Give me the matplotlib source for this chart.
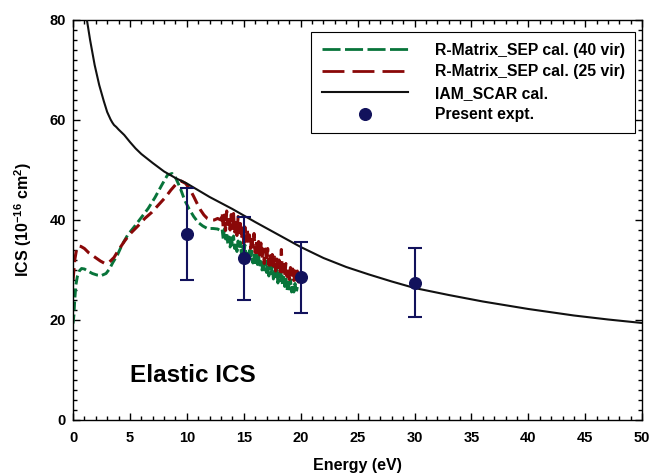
import matplotlib
matplotlib.use("Agg")
import matplotlib.pyplot as plt
from matplotlib.lines import Line2D
from matplotlib.ticker import MultipleLocator

plt.rcParams['font.family'] = ['Liberation Sans', 'DejaVu Sans']
plt.rcParams['font.weight'] = 'bold'
plt.rcParams['lines.scale_dashes'] = False
plt.rcParams['mathtext.fontset'] = 'custom'
plt.rcParams['mathtext.rm'] = 'Liberation Sans:bold'
plt.rcParams['mathtext.bf'] = 'Liberation Sans:bold'
plt.rcParams['mathtext.it'] = 'Liberation Sans:bold'
plt.rcParams['mathtext.sf'] = 'Liberation Sans:bold'
plt.rcParams['mathtext.default'] = 'regular'

# ---------------- data ----------------
# IAM_SCAR calculation
iam_x = [1.15, 1.5, 1.9, 2.3, 2.7, 3.0, 3.3, 3.45, 3.6, 3.8, 4.0, 4.5, 5.0, 5.5, 6.0, 7.0, 8.0, 9.0,
         10, 12, 14, 16, 18, 20, 22, 24, 26, 28, 30, 33, 36, 40, 44, 47, 50]
iam_y = [81, 76, 71, 67, 63.8, 61.6, 60.1, 59.5, 59.0, 58.6, 58.1, 57.0, 55.6, 54.3, 53.2, 51.4, 49.7, 48.4,
         47.3, 44.6, 42.2, 39.6, 37.1, 34.6, 32.4, 30.6, 29.1, 27.7, 26.4, 25.0, 23.7, 22.2, 20.9, 20.1, 19.4]

# R-Matrix SEP (40 vir)
rm40_x = [0.0, 0.08, 0.15, 0.25, 0.38, 0.55, 0.75, 1.0, 1.3, 1.7, 2.1, 2.5, 2.9, 3.2, 3.5, 3.9,
          4.3, 4.8, 5.4, 6.0, 6.6, 7.2, 7.8, 8.3, 8.7, 9.0, 9.4, 9.8, 10.2, 10.6, 11.0, 11.4,
          11.8, 12.3, 12.7, 13.0,
          13.1, 13.2, 13.3, 13.4, 13.5, 13.6, 13.7, 13.8, 13.9, 14.0, 14.1, 14.2, 14.3, 14.4,
          14.5, 14.6, 14.7, 14.8, 14.9, 15.0, 15.1, 15.2, 15.3, 15.4, 15.5, 15.6, 15.7, 15.8,
          15.9, 16.0, 16.1, 16.2, 16.3, 16.4, 16.5, 16.6, 16.7, 16.8, 16.9, 17.0, 17.1, 17.2,
          17.3, 17.4, 17.5, 17.6, 17.7, 17.8, 17.9, 18.0, 18.1, 18.2, 18.3, 18.4, 18.5, 18.6,
          18.7, 18.8, 18.9, 19.0, 19.1, 19.2, 19.3, 19.4, 19.5, 19.6, 19.7]
rm40_y = [19.3, 21.0, 24.0, 27.0, 28.7, 29.8, 30.3, 30.2, 29.8, 29.3, 29.0, 28.9, 29.3, 30.2, 31.5, 33.0,
          35.0, 37.0, 38.7, 40.5, 42.3, 44.5, 47.0, 49.0, 49.3, 48.5, 46.5, 44.0, 42.2, 40.7, 39.5, 38.8,
          38.3, 38.3, 38.2, 37.8,
          38.1, 36.1, 38.2, 36.2, 37.5, 35.2, 36.6, 34.6, 36.9, 35.0, 36.8, 34.3, 35.5, 33.7,
          35.8, 34.2, 35.6, 33.0, 34.8, 33.0, 35.0, 32.8, 33.9, 32.0, 33.9, 32.4, 33.8, 31.4,
          33.0, 30.9, 33.0, 31.1, 32.9, 30.6, 31.7, 30.0, 31.9, 30.0, 31.9, 29.5, 30.9, 28.8,
          31.0, 29.3, 30.7, 28.2, 29.8, 28.2, 30.1, 27.4, 29.4, 27.6, 29.6, 26.9, 28.6, 26.7,
          28.6, 25.9, 28.1, 26.2, 28.1, 25.6, 27.2, 25.6, 27.3, 25.4, 26.6]

# R-Matrix SEP (25 vir)
rm25_x = [0.0, 0.08, 0.15, 0.3, 0.5, 0.7, 1.0, 1.4, 1.9, 2.4, 2.8, 3.2, 3.6, 4.0, 4.5, 5.0,
          5.7, 6.3, 6.9, 7.5, 8.1, 8.6, 9.1, 9.5, 9.9, 10.3, 10.6, 10.9, 11.2, 11.5, 11.8, 12.1,
          12.4, 12.7, 13.0,
          13.1, 13.2, 13.3, 13.4, 13.5, 13.6, 13.7, 13.8, 13.9, 14.0, 14.1, 14.2, 14.3, 14.4,
          14.5, 14.6, 14.7, 14.8, 14.9, 15.0, 15.1, 15.2, 15.3, 15.4, 15.5, 15.6, 15.7, 15.8,
          15.9, 16.0, 16.1, 16.2, 16.3, 16.4, 16.5, 16.6, 16.7, 16.8, 16.9, 17.0, 17.1, 17.2,
          17.3, 17.4, 17.5, 17.6, 17.7, 17.8, 17.9, 18.0, 18.1, 18.2, 18.3, 18.4, 18.5, 18.6,
          18.7, 18.8, 18.9, 19.0, 19.1, 19.2, 19.3, 19.4, 19.5, 19.6, 19.7, 19.8, 19.9, 20.0, 20.1]
rm25_y = [28.0, 30.0, 32.0, 34.0, 34.8, 34.7, 34.3, 33.4, 32.6, 31.8, 31.3, 31.6, 32.5, 34.0, 35.7, 37.2,
          38.8, 40.3, 41.5, 43.0, 44.5, 46.0, 47.3, 47.8, 47.3, 46.0, 44.7, 43.3, 42.0, 41.0, 40.3, 40.0,
          40.0, 40.3, 40.0,
          41.5, 38.2, 41.0, 37.9, 41.8, 39.1, 40.7, 38.0, 41.1, 38.3, 41.3, 37.6, 40.0, 36.9,
          40.7, 37.5, 39.3, 36.2, 38.4, 35.3, 38.6, 35.8, 38.4, 35.0, 37.0, 34.3, 36.9, 34.6,
          37.3, 33.5, 35.8, 32.7, 35.7, 33.0, 35.4, 32.3, 34.2, 31.3, 34.2, 31.8, 34.3, 31.0,
          33.1, 30.4, 33.1, 30.8, 32.6, 29.8, 32.2, 29.7, 32.0, 29.7, 34.1, 29.0, 31.1, 28.9,
          31.3, 28.7, 30.5, 28.1, 30.5, 28.2, 30.2, 27.9, 29.8, 28.0, 29.8, 27.6, 29.3, 27.7, 28.4]

# Present experiment
exp_x = [10, 15, 20, 30]
exp_y = [37.2, 32.3, 28.5, 27.4]
exp_err = [9.2, 8.3, 7.1, 6.9]

# ---------------- style ----------------
c_green = '#08743a'
c_red = '#8a0808'
c_navy = '#12125c'

fig = plt.figure(figsize=(6.52, 4.75), dpi=100)
ax = fig.add_axes([0.112, 0.1158, 0.873, 0.8421])

ax.plot(rm40_x, rm40_y, color=c_green, lw=2.1, dashes=(6.5, 2.9), zorder=2)
ax.plot(rm25_x, rm25_y, color=c_red, lw=2.2, dashes=(8.6, 4.3), zorder=2)
ax.plot(iam_x, iam_y, color='#111111', lw=1.5, zorder=3)
ax.errorbar(exp_x, exp_y, yerr=exp_err, fmt='o', color=c_navy, ms=8.4,
            elinewidth=1.5, capsize=4.8, capthick=1.5, zorder=4)

ax.text(5.0, 7.6, 'Elastic ICS', fontsize=17.5, fontweight='bold', va='baseline', ha='left')

ax.set_xlim(0, 50)
ax.set_ylim(0, 80)
ax.xaxis.set_major_locator(MultipleLocator(5))
ax.xaxis.set_minor_locator(MultipleLocator(1))
ax.yaxis.set_major_locator(MultipleLocator(20))
ax.yaxis.set_minor_locator(MultipleLocator(2))
ax.tick_params(which='both', direction='in', top=True, right=True, width=1.0, labelsize=10.5)
ax.tick_params(which='major', length=4.8)
ax.tick_params(which='minor', length=2.9)
ax.tick_params(axis='x', pad=8)
ax.tick_params(axis='y', pad=5)
for lab in ax.get_xticklabels() + ax.get_yticklabels():
    lab.set_fontweight('bold')
for sp in ax.spines.values():
    sp.set_linewidth(1.0)

ax.set_xlabel('Energy (eV)', fontsize=11.5, fontweight='bold', labelpad=9)
ax.set_ylabel(r'ICS (10$^{-16}$ cm$^{2}$)', fontsize=11.5, fontweight='bold', labelpad=11)

handles = [
    Line2D([], [], color=c_green, lw=2.0, dashes=(13, 3.2)),
    Line2D([], [], color=c_red, lw=2.0, dashes=(15.8, 5.8)),
    Line2D([], [], color='#111111', lw=1.5),
    Line2D([], [], color=c_navy, marker='o', ms=8.4, ls='none'),
]
labels = ['R-Matrix_SEP cal. (40 vir)', 'R-Matrix_SEP cal. (25 vir)', 'IAM_SCAR cal.', 'Present expt.']
leg = ax.legend(handles, labels, loc='upper right', bbox_to_anchor=(0.988, 0.97),
                borderaxespad=0, fontsize=11.3, handlelength=5.5, handletextpad=1.7,
                borderpad=0.68, labelspacing=0.42, fancybox=False, framealpha=1,
                edgecolor='black')
leg.get_frame().set_linewidth(0.8)
for t in leg.get_texts():
    t.set_fontweight('bold')

fig.savefig('out.png', dpi=100)
